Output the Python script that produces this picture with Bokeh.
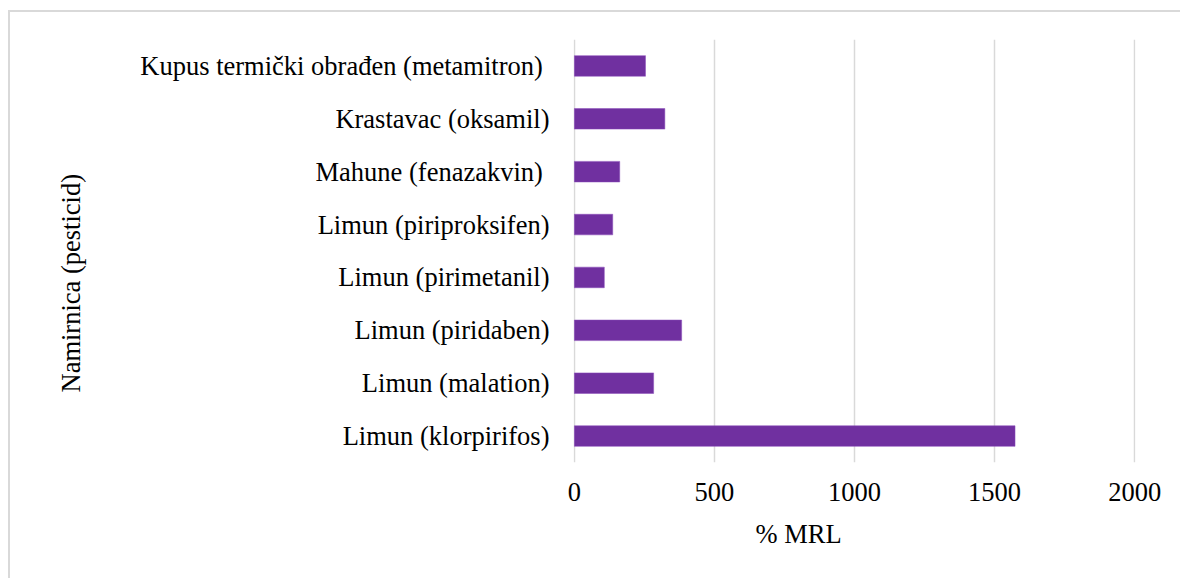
from bokeh.plotting import figure
from bokeh.models import FactorRange, Range1d, Title, FixedTicker
from bokeh.embed import file_html
from bokeh.resources import INLINE

# categories bottom -> top
categories = [
    "Limun (klorpirifos)",
    "Limun (malation)",
    "Limun (piridaben)",
    "Limun (pirimetanil)",
    "Limun (piriproksifen)",
    "Mahune (fenazakvin) ",
    "Krastavac (oksamil)",
    "Kupus termički obrađen (metamitron) ",
]
values = [1573, 283, 383, 107, 137, 162, 323, 254]
x_ticks = [0, 500, 1000, 1500, 2000]
x_title = "% MRL"
y_title = "Namirnica (pesticid)"

FONT = "Liberation Serif"
FS = "26.5px"

p = figure(
    width=1180, height=578,
    y_range=FactorRange(*categories),
    x_range=Range1d(-3, 2003),
    output_backend="svg", toolbar_location=None,
    min_border_left=573, min_border_right=45,
    min_border_top=39, min_border_bottom=116,
)
# chart-area border (left and top edges visible) painted behind a transparent canvas border
p.styles = {"background": (
    "linear-gradient(#d9d9d9, #d9d9d9) 8px 10px / 2px 700px no-repeat, "
    "linear-gradient(#d9d9d9, #d9d9d9) 8px 10px / 1300px 2px no-repeat, #ffffff")}
p.outline_line_color = None
p.background_fill_color = "white"
p.border_fill_color = None

p.hbar(y=categories, right=values, left=0, height=0.39,
       fill_color="#7030A0", line_color="#8a4cbb", line_width=0.5)

p.xaxis.ticker = FixedTicker(ticks=x_ticks)
for ax in (p.xaxis, p.yaxis):
    ax.axis_line_color = None
    ax.major_tick_line_color = None
    ax.minor_tick_line_color = None
    ax.major_label_text_font = FONT
    ax.major_label_text_font_size = FS
    ax.major_label_text_color = "#000000"
p.xaxis.major_label_standoff = 14
p.yaxis.major_label_standoff = 18

p.xgrid.grid_line_color = "#d9d9d9"
p.xgrid.grid_line_width = 1.5
p.ygrid.grid_line_color = None

# axis titles
p.add_layout(Title(text=x_title, align="left", offset=182, standoff=27,
                   text_font=FONT, text_font_size=FS, text_font_style="normal",
                   text_color="#000000"), "below")
p.add_layout(Title(text=y_title, align="left", offset=70, standoff=104,
                   text_font=FONT, text_font_size=FS, text_font_style="normal",
                   text_color="#000000"), "left")

open("out.html", "w").write(file_html(p, INLINE))
